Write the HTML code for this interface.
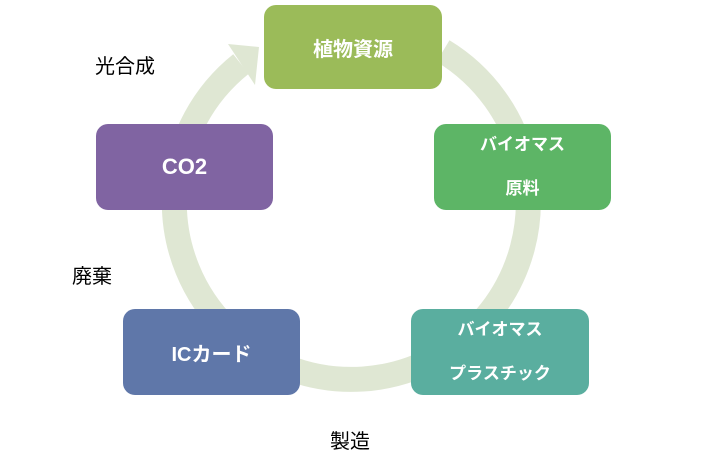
<!DOCTYPE html>
<html><head><meta charset="utf-8"><style>
body{margin:0;background:#fff;width:708px;height:467px;overflow:hidden;position:relative;font-family:"Liberation Sans","Noto Sans CJK JP",sans-serif}
.b{position:absolute;border-radius:12px;color:#fff;font-weight:bold;display:flex;flex-direction:column;align-items:center;justify-content:center;text-align:center}
.l{position:absolute;font-size:20px;color:#000}
</style></head><body>
<svg width="708" height="467" style="position:absolute;left:0;top:0">
<path d="M241,64 A177,177 0 1 0 443,51" fill="none" stroke="#dfe7d3" stroke-width="25"/>
<polygon points="228,44 255,85 259,47" fill="#dfe7d3"/>
</svg>
<div class="b" style="left:264px;top:5px;width:178px;height:84px;background:#9bbb59;font-size:20px">植物資源</div>
<div class="b" style="left:434px;top:124px;width:177px;height:86px;background:#5db566;font-size:17px;line-height:44px">バイオマス<br>原料</div>
<div class="b" style="left:411px;top:309px;width:178px;height:86px;background:#5aae9f;font-size:17px;line-height:44px">バイオマス<br>プラスチック</div>
<div class="b" style="left:123px;top:309px;width:177px;height:86px;background:#5f77a9;font-size:20px">ICカード</div>
<div class="b" style="left:96px;top:124px;width:177px;height:86px;background:#8064a2;font-size:22px">CO2</div>
<div class="l" style="left:95px;top:50px">光合成</div>
<div class="l" style="left:72px;top:260px">廃棄</div>
<div class="l" style="left:330px;top:425px">製造</div>
</body></html>
